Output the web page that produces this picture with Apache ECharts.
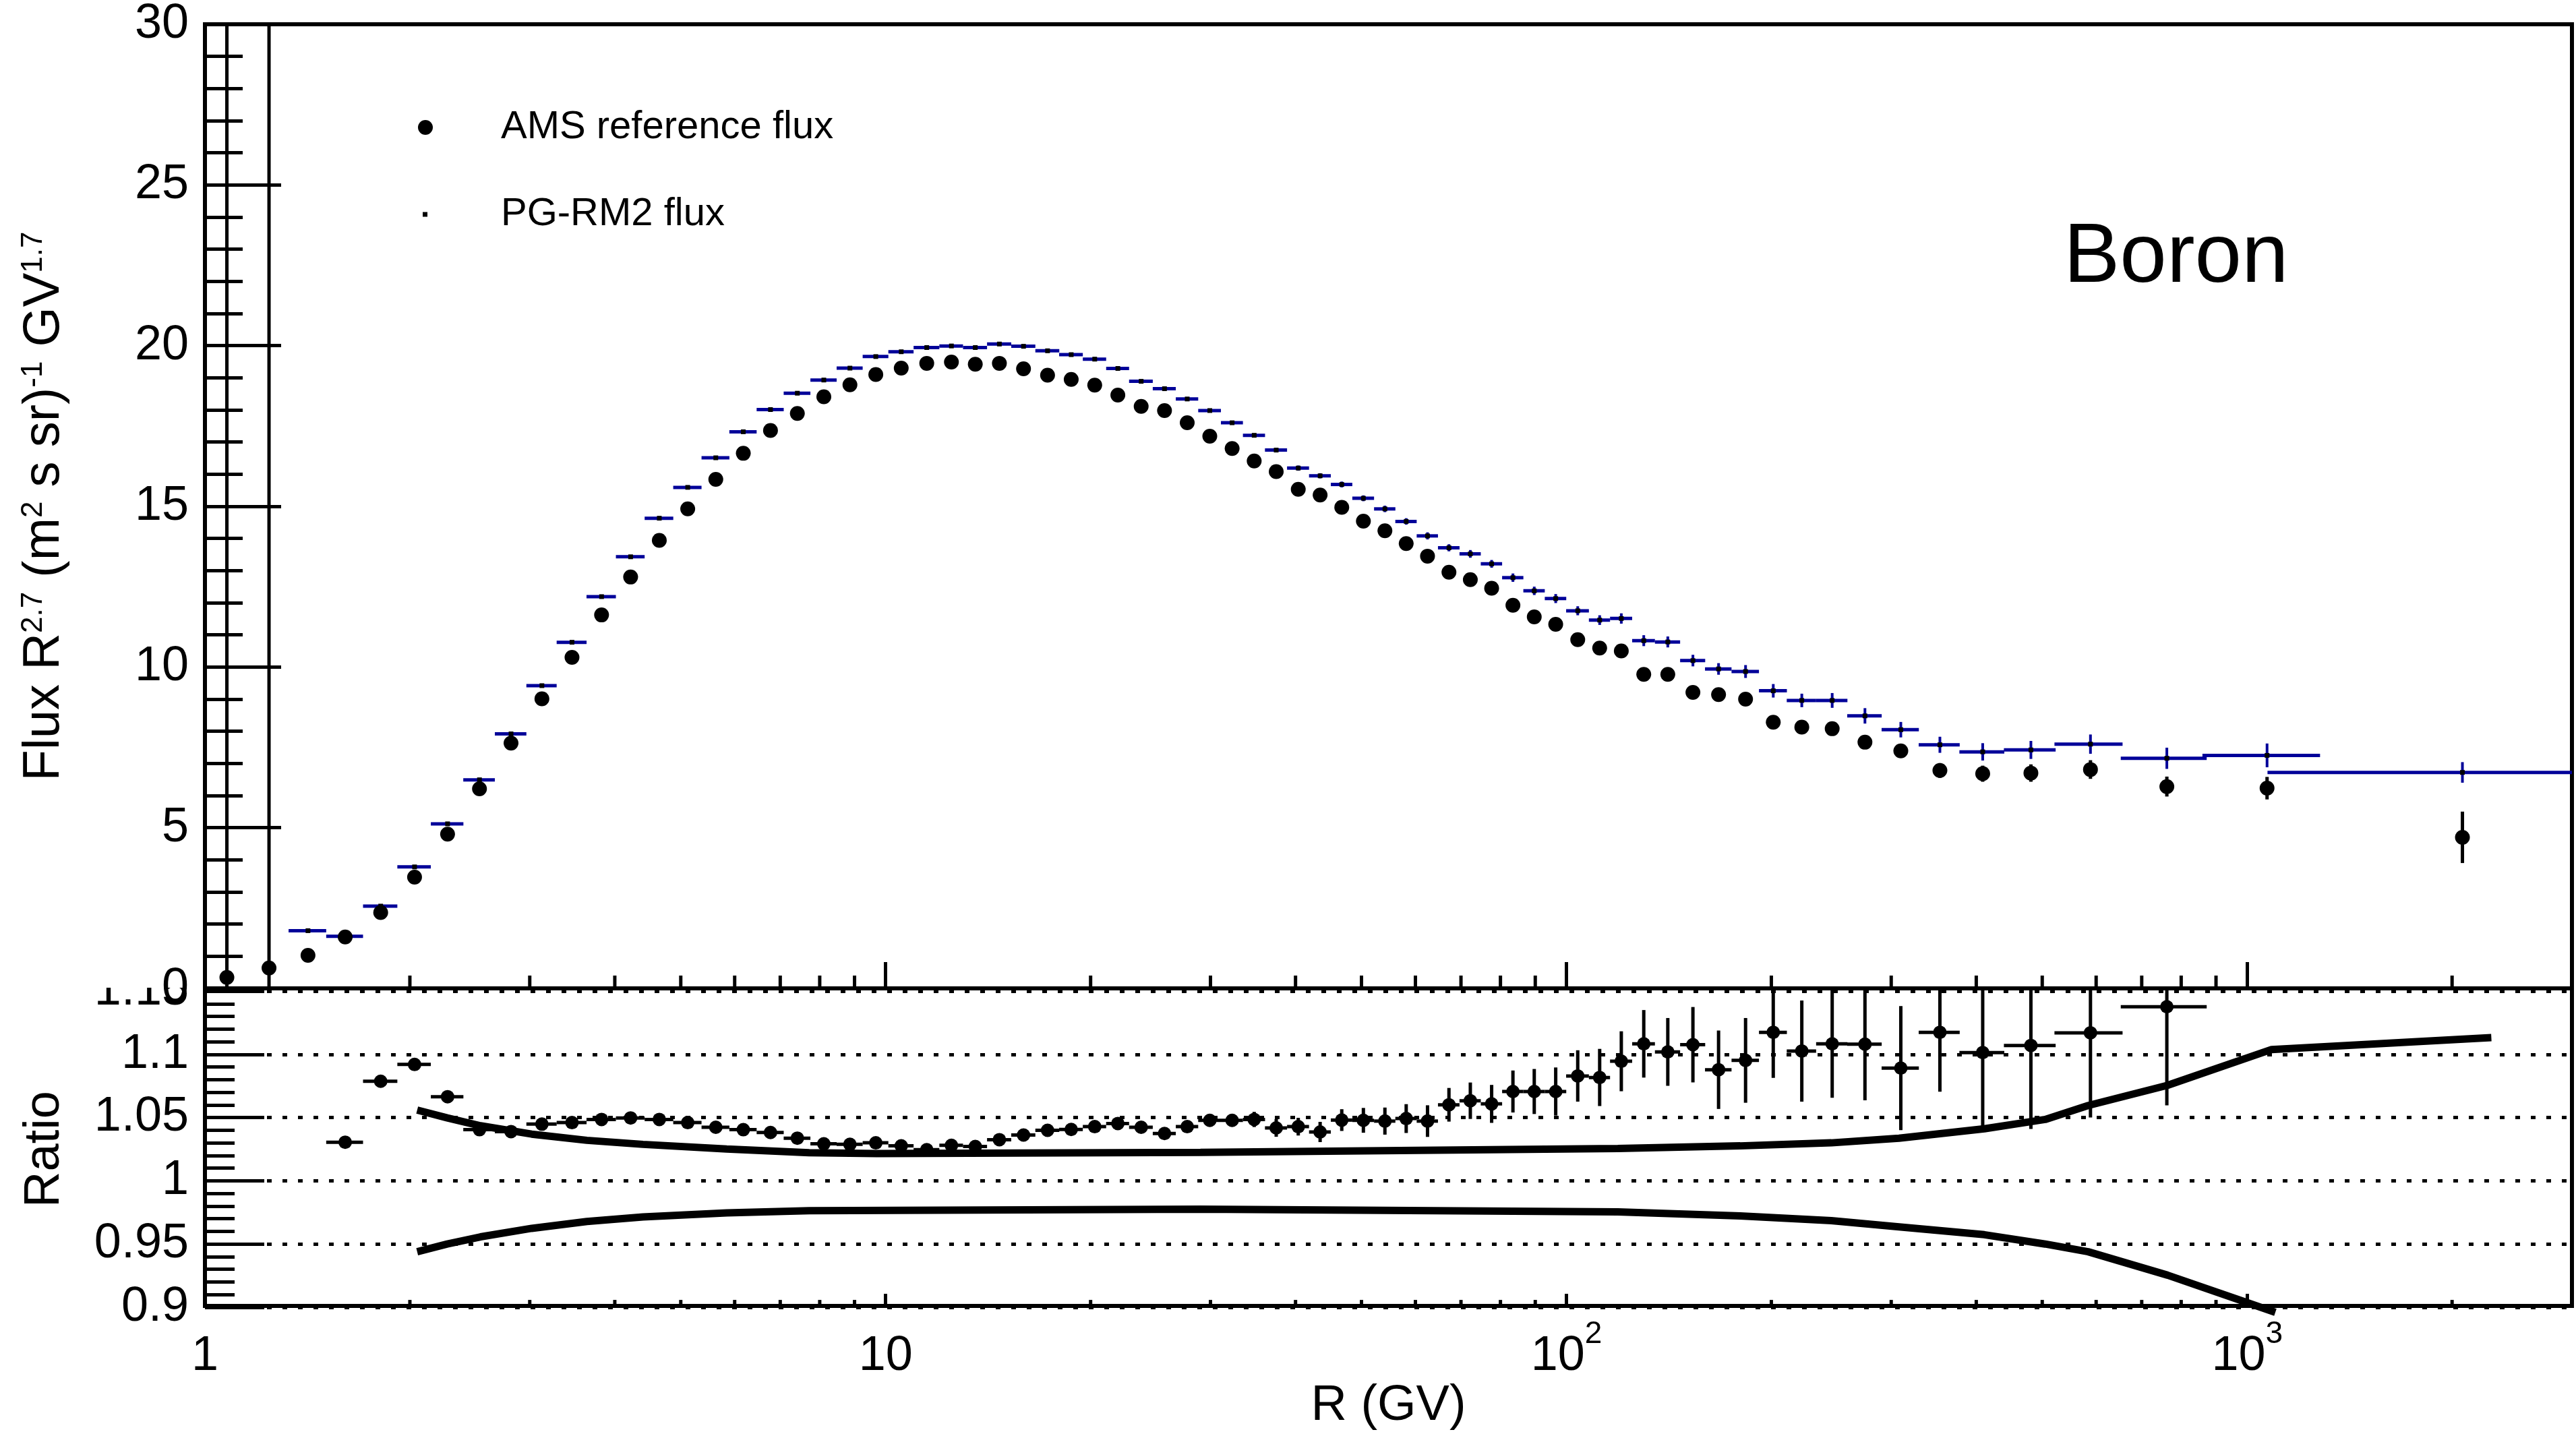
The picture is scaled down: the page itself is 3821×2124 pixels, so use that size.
<!DOCTYPE html>
<html>
<head>
<meta charset="utf-8">
<title>Boron flux</title>
<script src="https://cdn.jsdelivr.net/npm/echarts@6.0.0/dist/echarts.min.js"></script>
<style>
html,body{margin:0;padding:0;background:#ffffff;}
#chart{width:3821px;height:2124px;}
</style>
</head>
<body>
<div id="chart"></div>
<script>
// ---------------- DATA ----------------
const binLow = [1.00,1.16,1.33,1.51,1.71,1.92,2.15,2.40,2.67,2.97,
  3.29,3.64,4.02,4.43,4.88,5.37,5.90,6.47,7.09,7.76,
  8.48,9.26,10.1,11.0,12.0,13.0,14.1,15.3,16.6,18.0,
  19.5,21.1,22.8,24.7,26.7,28.8,31.1,33.5,36.1,38.9,
  41.9,45.1,48.5,52.2,56.1,60.3,64.8,69.7,74.9,80.5,
  86.5,93.0,100,108,116,125,135,147,160,175,
  192,211,233,259,291,330,379,441,525,660,
  880,1300];
const binHigh = [1.16,1.33,1.51,1.71,1.92,2.15,2.40,2.67,2.97,3.29,
  3.64,4.02,4.43,4.88,5.37,5.90,6.47,7.09,7.76,8.48,
  9.26,10.1,11.0,12.0,13.0,14.1,15.3,16.6,18.0,19.5,
  21.1,22.8,24.7,26.7,28.8,31.1,33.5,36.1,38.9,41.9,
  45.1,48.5,52.2,56.1,60.3,64.8,69.7,74.9,80.5,86.5,
  93.0,100,108,116,125,135,147,160,175,192,
  211,233,259,291,330,379,441,525,660,880,
  1300,3300];
const binCenter = [1.077,1.242,1.417,1.607,1.812,2.032,2.272,2.531,2.816,3.126,
  3.461,3.825,4.220,4.650,5.119,5.629,6.178,6.773,7.417,8.112,
  8.861,9.671,10.54,11.49,12.49,13.54,14.69,15.94,17.29,18.73,
  20.28,21.93,23.73,25.68,27.73,29.93,32.28,34.78,37.47,40.37,
  43.47,46.77,50.32,54.12,58.16,62.51,67.21,72.25,77.65,83.45,
  89.69,96.44,103.9,111.9,120.4,129.9,140.9,153.4,167.3,183.3,
  201.3,221.7,245.7,274.5,309.9,353.7,408.8,481.2,588.6,762.1,
  1069.6,2071.2];

// AMS reference flux x R^2.7
const amsFlux = [0.34,0.635,1.03,1.60,2.36,3.46,4.80,6.21,7.63,9.01,
  10.30,11.62,12.80,13.94,14.92,15.84,16.65,17.36,17.89,18.41,
  18.78,19.10,19.30,19.45,19.49,19.42,19.45,19.28,19.08,18.95,
  18.77,18.46,18.11,17.98,17.60,17.18,16.80,16.41,16.08,15.53,
  15.35,14.97,14.54,14.24,13.84,13.45,12.95,12.72,12.45,11.92,
  11.56,11.33,10.85,10.59,10.50,9.77,9.77,9.21,9.14,9.00,
  8.28,8.13,8.08,7.66,7.39,6.78,6.68,6.70,6.81,6.28,
  6.23,4.70];
const amsErr = [40,40,0.05,0.06,0.07,0.08,0.09,0.10,0.10,0.11,
  0.11,0.12,0.12,0.12,0.12,0.12,0.12,0.12,0.12,0.12,
  0.12,0.12,0.12,0.12,0.12,0.12,0.12,0.12,0.12,0.12,
  0.12,0.12,0.12,0.12,0.12,0.12,0.12,0.12,0.12,0.12,
  0.12,0.12,0.12,0.12,0.12,0.12,0.12,0.12,0.12,0.13,
  0.13,0.13,0.14,0.14,0.15,0.15,0.16,0.16,0.17,0.17,
  0.18,0.18,0.19,0.20,0.21,0.23,0.25,0.27,0.29,0.31,
  0.35,0.80];

// PG-RM2 flux x R^2.7 (null = not drawn)
const pgFlux = [null,null,1.795,1.62,2.56,3.78,5.12,6.49,7.92,9.42,
  10.77,12.19,13.43,14.63,15.59,16.51,17.32,18.01,18.52,18.93,
  19.30,19.66,19.81,19.94,19.99,19.94,20.05,19.98,19.84,19.72,
  19.58,19.29,18.89,18.66,18.34,17.98,17.60,17.21,16.75,16.19,
  15.95,15.68,15.25,14.92,14.53,14.08,13.71,13.52,13.21,12.78,
  12.37,12.13,11.75,11.46,11.51,10.82,10.78,10.20,9.94,9.86,
  9.26,8.96,8.96,8.48,8.05,7.58,7.36,7.42,7.60,7.16,
  7.25,6.72];
const pgErr = [0,0,0.02,0.02,0.02,0.02,0.03,0.03,0.03,0.03,
  0.03,0.03,0.03,0.03,0.03,0.04,0.04,0.04,0.04,0.04,
  0.04,0.04,0.04,0.04,0.04,0.04,0.04,0.05,0.05,0.05,
  0.05,0.05,0.05,0.05,0.05,0.05,0.05,0.05,0.06,0.08,
  0.08,0.09,0.09,0.10,0.10,0.11,0.11,0.12,0.12,0.13,
  0.13,0.14,0.14,0.15,0.16,0.17,0.17,0.18,0.18,0.20,
  0.21,0.21,0.23,0.24,0.24,0.25,0.27,0.28,0.30,0.33,
  0.37,0.32];

// Ratio panel (null = off scale, not drawn)
const ratio = [null,null,null,1.0305,1.0787,1.092,1.0665,1.0404,1.0389,1.0448,
  1.046,1.0485,1.0497,1.0485,1.046,1.0423,1.0404,1.0382,1.0337,1.0292,
  1.0288,1.030,1.0276,1.0246,1.028,1.0271,1.0325,1.0362,1.0399,1.0406,
  1.0428,1.0453,1.0423,1.0374,1.0428,1.0478,1.0478,1.0485,1.0418,1.0428,
  1.0386,1.048,1.0478,1.0472,1.0492,1.0472,1.0601,1.0633,1.0608,1.0706,
  1.0706,1.0706,1.0829,1.0817,1.0945,1.1083,1.1019,1.1076,1.0878,1.0952,
  1.1174,1.1026,1.1083,1.108,1.0891,1.1174,1.1014,1.107,1.117,1.1376,
  null,null];
const ratioErr = [0,0,0,0.003,0.003,0.003,0.003,0.003,0.003,0.003,
  0.003,0.003,0.003,0.003,0.003,0.003,0.003,0.003,0.003,0.003,
  0.003,0.003,0.003,0.003,0.003,0.003,0.003,0.003,0.004,0.004,
  0.004,0.004,0.004,0.004,0.004,0.005,0.005,0.006,0.007,0.007,
  0.008,0.0086,0.0098,0.0107,0.0114,0.0125,0.0133,0.0144,0.015,0.0166,
  0.0178,0.019,0.0203,0.0226,0.0237,0.0267,0.0268,0.0298,0.031,0.0335,
  0.036,0.040,0.0427,0.0443,0.049,0.047,0.058,0.066,0.067,0.078,
  0,0];

// Uncertainty band curves
const bandUpperR = [2.05,2.27,2.54,3.02,3.64,4.40,5.84,7.72,9.7,29,119,180,245,308,411,505,584,764,1086,2284];
const bandUpper  = [1.0559,1.0497,1.0435,1.0369,1.032,1.0288,1.0251,1.0222,1.0215,1.0225,1.0255,1.0276,1.030,1.0337,1.0411,1.0485,1.0595,1.0755,1.1038,1.1132];
const bandLowerR = [2.05,2.27,2.54,3.02,3.64,4.40,5.84,7.72,29,119,180,245,308,411,505,584,764,1100];
const bandLower  = [0.9439,0.950,0.9557,0.9624,0.9678,0.9714,0.9746,0.9764,0.9776,0.9754,0.9722,0.9685,0.9636,0.9574,0.950,0.9439,0.9254,0.896];

// Axis tick data
const xTickValues = [1,10,100,1000];
const xTickBase = ['1','10','10','10'];
const xTickExp = ['','','2','3'];
const xMinorTicks = [2,3,4,5,6,7,8,9,20,30,40,50,60,70,80,90,200,300,400,500,600,700,800,900,2000];
const ratioPadRange = [0.8965,1.1531];

// ---------------- CHART ----------------
const FONT = '"Liberation Sans", Arial, Helvetica, sans-serif';
const NAVY = '#000099';

const pgData = [], amsData = [], amsErrData = [], ratioData = [], ratioErrData = [];
for (let i = 0; i < binCenter.length; i++) {
  const hw = (binHigh[i] - binLow[i]) / 2;
  amsData.push([binCenter[i], amsFlux[i]]);
  amsErrData.push([binCenter[i], amsFlux[i], amsErr[i]]);
  if (pgFlux[i] !== null) pgData.push([binCenter[i], pgFlux[i], pgErr[i], hw]);
  if (ratio[i] !== null) {
    ratioData.push([binCenter[i], ratio[i]]);
    ratioErrData.push([binCenter[i], ratio[i], ratioErr[i], hw]);
  }
}

function line(p1, p2, color, w) {
  return {type: 'line', shape: {x1: p1[0], y1: p1[1], x2: p2[0], y2: p2[1]},
          style: {stroke: color, lineWidth: w, lineCap: 'butt'}};
}

function renderPG(params, api) {
  const c = api.value(0), v = api.value(1), e = api.value(2), hw = api.value(3);
  const p = api.coord([c, v]);
  return {type: 'group', children: [
    line(api.coord([c - hw, v]), api.coord([c + hw, v]), NAVY, 5),
    line(api.coord([c, v - e]), api.coord([c, v + e]), NAVY, 4),
    {type: 'rect', shape: {x: p[0] - 3.5, y: p[1] - 3.5, width: 7, height: 7}, style: {fill: '#000'}}
  ]};
}
function renderAmsErr(params, api) {
  const c = api.value(0), v = api.value(1), e = api.value(2);
  return line(api.coord([c, v - e]), api.coord([c, v + e]), '#000', 5);
}
function renderRatioErr(params, api) {
  const c = api.value(0), v = api.value(1), e = api.value(2), hw = api.value(3);
  const lo = Math.max(v - e, ratioPadRange[0]);
  const hi = Math.min(v + e, ratioPadRange[1]);
  return {type: 'group', children: [
    line(api.coord([c - hw, v]), api.coord([c + hw, v]), '#000', 5),
    line(api.coord([c, lo]), api.coord([c, hi]), '#000', 5)
  ]};
}
function makeTickRenderer(len) {
  return function (params, api) {
    const p = api.coord([api.value(0), api.value(1)]);
    return line([p[0], p[1]], [p[0], p[1] - len], '#000', 5);
  };
}

const richLabel = {
  t: {fontSize: 72, fontFamily: FONT, color: '#000', padding: [20, 0, 0, 0]},
  s: {fontSize: 46, fontFamily: FONT, color: '#000', verticalAlign: 'top'}
};
const richTitle = {
  t: {fontSize: 76, fontFamily: FONT, color: '#000'},
  s: {fontSize: 44, fontFamily: FONT, color: '#000', verticalAlign: 'top'}
};

const chart = echarts.init(document.getElementById('chart'), null, {renderer: 'canvas', width: 3821, height: 2124});

const option = {
  backgroundColor: '#ffffff',
  animation: false,
  textStyle: {fontFamily: FONT},
  grid: [
    {left: 304, right: 6, top: 27, height: 1439, show: true, borderColor: '#000', borderWidth: 6, backgroundColor: 'transparent'},
    {left: 304, right: 6, top: 1466, height: 480, show: true, borderColor: '#000', borderWidth: 6, backgroundColor: 'transparent'},
    {left: 304, right: 6, top: 1470, height: 469, show: false}
  ],
  xAxis: [
    {gridIndex: 0, type: 'log', logBase: 10, min: 1, max: 3000,
     axisLine: {show: false}, axisLabel: {show: false}, splitLine: {show: false},
     axisTick: {show: true, inside: true, length: 39, lineStyle: {color: '#000', width: 5}}},
    {gridIndex: 1, type: 'log', logBase: 10, min: 1, max: 3000,
     axisLine: {show: false}, splitLine: {show: false},
     axisTick: {show: true, inside: true, length: 18, lineStyle: {color: '#000', width: 5}},
     axisLabel: {show: true, margin: 19, showMaxLabel: false, rich: richLabel,
       formatter: function (v) {
         const i = xTickValues.findIndex(t => Math.abs(Math.log10(v) - Math.log10(t)) < 1e-6);
         if (i < 0) return '';
         return '{t|' + xTickBase[i] + '}' + (xTickExp[i] ? '{s|' + xTickExp[i] + '}' : '');
       }},
     name: 'R (GV)', nameLocation: 'middle', nameGap: 95,
     nameTextStyle: {fontSize: 74, fontFamily: FONT, color: '#000'}},
    {gridIndex: 2, type: 'log', logBase: 10, min: 1, max: 3000, show: false}
  ],
  yAxis: [
    {gridIndex: 0, type: 'value', min: 0, max: 30, interval: 5, z: 100,
     axisLine: {show: false}, splitLine: {show: false},
     axisTick: {show: true, inside: true, length: 113, lineStyle: {color: '#000', width: 5}},
     minorTick: {show: true, splitNumber: 5, length: 56, lineStyle: {color: '#000', width: 5}},
     axisLabel: {fontSize: 72, fontFamily: FONT, color: '#000', margin: 24},
     name: '{t|Flux R}{s|2.7}{t| (m}{s|2}{t| s sr)}{s|-1}{t| GV}{s|1.7}',
     nameLocation: 'middle', nameGap: 200,
     nameTextStyle: {rich: richTitle, fontSize: 76, fontFamily: FONT, color: '#000'}},
    {gridIndex: 1, type: 'value', min: 0, max: 1, show: false},
    {gridIndex: 2, type: 'value', min: 0.9, max: 1.15, interval: 0.05, z: 1,
     axisLine: {show: false},
     axisTick: {show: true, inside: true, length: 88, lineStyle: {color: '#000', width: 5}},
     minorTick: {show: true, splitNumber: 5, length: 44, lineStyle: {color: '#000', width: 5}},
     splitLine: {show: true, lineStyle: {color: '#000', width: 5, type: [7, 16]}},
     axisLabel: {fontSize: 72, fontFamily: FONT, color: '#000', margin: 24},
     name: 'Ratio', nameLocation: 'middle', nameGap: 200,
     nameTextStyle: {fontSize: 74, fontFamily: FONT, color: '#000'}}
  ],
  legend: [
    {data: [{name: 'AMS reference flux', icon: 'circle', itemStyle: {color: '#000', opacity: 1}}],
     left: 620, top: 160, padding: 0, itemWidth: 22, itemHeight: 22, selectedMode: false,
     textStyle: {fontSize: 58, fontFamily: FONT, color: '#000', padding: [0, 0, 0, 96]}},
    {data: [{name: 'PG-RM2 flux', icon: 'rect', itemStyle: {color: '#000', opacity: 1}}],
     left: 627, top: 289, padding: 0, itemWidth: 7, itemHeight: 7, selectedMode: false,
     textStyle: {fontSize: 58, fontFamily: FONT, color: '#000', padding: [0, 0, 0, 104]}}
  ],
  graphic: [
    {type: 'rect', x: 100, y: 1380, shape: {x: 0, y: 0, width: 199, height: 85}, style: {fill: '#ffffff'}, z: 50, silent: true},
    {type: 'text', x: 3061, y: 384, z: 60, silent: true,
     style: {text: 'Boron', font: '125px "Liberation Sans", Arial, sans-serif', fill: '#000', align: 'left', verticalAlign: 'middle'}}
  ],
  series: [
    {name: 'top minor ticks', type: 'custom', xAxisIndex: 0, yAxisIndex: 0, silent: true, z: 1,
     data: xMinorTicks.map(t => [t, 0]), renderItem: makeTickRenderer(19)},
    {name: 'bottom minor ticks', type: 'custom', xAxisIndex: 1, yAxisIndex: 1, silent: true, z: 1,
     data: xMinorTicks.map(t => [t, 0]), renderItem: makeTickRenderer(9)},
    {name: 'AMS errors', type: 'custom', xAxisIndex: 0, yAxisIndex: 0, clip: true, silent: true, z: 2,
     data: amsErrData, renderItem: renderAmsErr},
    {name: 'PG-RM2 flux', type: 'custom', xAxisIndex: 0, yAxisIndex: 0, clip: true, silent: true, z: 3,
     itemStyle: {color: '#000'}, data: pgData, renderItem: renderPG},
    {name: 'AMS reference flux', type: 'scatter', xAxisIndex: 0, yAxisIndex: 0, z: 4,
     symbol: 'circle', symbolSize: 22, itemStyle: {color: '#000', opacity: 1}, data: amsData, clip: true},
    {name: 'ratio errors', type: 'custom', xAxisIndex: 2, yAxisIndex: 2, clip: false, silent: true, z: 2,
     data: ratioErrData, renderItem: renderRatioErr},
    {name: 'band upper', type: 'line', xAxisIndex: 2, yAxisIndex: 2, clip: false, z: 3, silent: true,
     symbol: 'none', lineStyle: {color: '#000', width: 11}, data: bandUpperR.map((r, i) => [r, bandUpper[i]])},
    {name: 'band lower', type: 'line', xAxisIndex: 2, yAxisIndex: 2, clip: false, z: 3, silent: true,
     symbol: 'none', lineStyle: {color: '#000', width: 11}, data: bandLowerR.map((r, i) => [r, bandLower[i]])},
    {name: 'ratio', type: 'scatter', xAxisIndex: 2, yAxisIndex: 2, z: 4,
     symbol: 'circle', symbolSize: 20, itemStyle: {color: '#000', opacity: 1}, data: ratioData}
  ]
};
chart.setOption(option);
</script>
</body>
</html>
